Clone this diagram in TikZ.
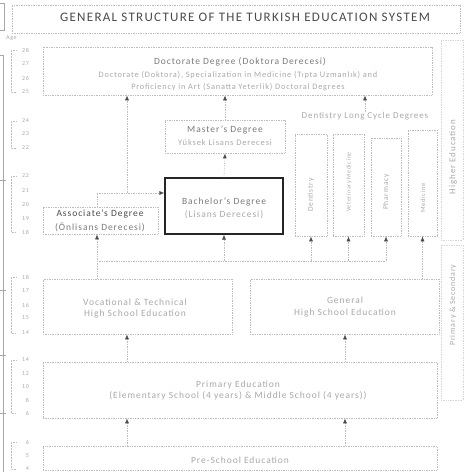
\documentclass[tikz,border=0pt]{standalone}
\usepackage{fontspec}
\setmainfont{Carlito}[LetterSpace=10]
\usetikzlibrary{arrows.meta}
\definecolor{dk}{HTML}{4A4A4A}
\definecolor{md}{HTML}{7A7A7A}
\definecolor{lt}{HTML}{A8A8A8}
\definecolor{ln}{HTML}{BDBDBD}
\tikzset{
  box/.style={draw=ln, densely dotted, line width=0.7pt, rectangle, inner sep=0pt},
  conn/.style={draw=ln, densely dotted, line width=0.7pt},
  arr/.style={conn, -{Latex[length=5pt,width=4pt,color=dk]}},
  txt/.style={inner sep=0pt, text=md, font=\fontsize{9.5}{11}\selectfont},
  txtl/.style={inner sep=0pt, text=lt, font=\fontsize{9.5}{11}\selectfont},
  vtxt/.style={inner sep=0pt, text=lt, font=\fontsize{7.5}{9}\selectfont, rotate=90},
  agetxt/.style={inner sep=0pt, text=lt, font=\fontsize{6}{7}\selectfont, anchor=east},
  brk/.style={draw=ln, densely dotted, line width=0.5pt}
}
\begin{document}
\begin{tikzpicture}[x=1pt,y=-1pt]
\useasboundingbox (0,0) rectangle (465,472);
% title
\node[box, minimum width=448pt, minimum height=28pt] (titlebox) at (236,19) {};
\node[inner sep=0pt, text=dk, font=\fontsize{13}{15}\selectfont] (title) at (245,17) {GENERAL STRUCTURE OF THE TURKISH EDUCATION SYSTEM};
\node[inner sep=0pt, text=lt, font=\fontsize{6}{7}\selectfont, anchor=west] (age) at (6,38) {Age};
% left edge
\draw[draw=lt, line width=0.5pt] (0,3) -- (4,3) -- (4,30) -- (0,30);
\draw[draw=lt, line width=0.5pt] (0,55) -- (3,55) -- (3,472);
\foreach \yy in {180,290,355,413} \draw[draw=lt, line width=0.5pt] (0,\yy) -- (6,\yy);
% age labels
\foreach \a/\yy in {28/50,27/64,26/78,25/92, 24/121,23/134,22/148, 22/176,21/191,20/205,19/219,18/232, 18/277,17/291,16/305,15/318,14/333, 14/360,12/374,10/387,8/400,6/413, 6/442,5/456,4/469}
  \node[agetxt] at (29,\yy) {\a};
\foreach \ya/\yb in {50/92,121/148,176/232,277/333,360/413,442/469}{
  \draw[brk] (16,\ya) -- (11,\ya) -- (11,\yb) -- (16,\yb);
}
% doctorate
\node[box, minimum width=389pt, minimum height=48pt] (doc) at (237.5,71) {};
\node[txt] (doct1) at (240,62) {Doctorate Degree (Doktora Derecesi)};
\node[txtl, font=\fontsize{8.3}{10}\selectfont] (doct2) at (238,75) {Doctorate (Doktora), Specialization in Medicine (Tıpta Uzmanlık) and};
\node[txtl, font=\fontsize{8.3}{10}\selectfont] (doct3) at (238,87) {Proficiency in Art (Sanatta Yeterlik) Doctoral Degrees};
% master
\node[box, minimum width=120pt, minimum height=33pt] (mas) at (225,136.5) {};
\node[txt] (mast1) at (225,130) {Master's Degree};
\node[txtl, font=\fontsize{8.5}{10}\selectfont] (mast2) at (225,143) {Yüksek Lisans Derecesi};
% bachelor
\node[draw=black!85, line width=1.2pt, rectangle, minimum width=118pt, minimum height=56pt, inner sep=0pt] (bach) at (224,206) {};
\node[txt] (bacht1) at (224,202) {Bachelor's Degree};
\node[txtl] (bacht2) at (224,215) {(Lisans Derecesi)};
% associate
\node[box, minimum width=115pt, minimum height=27pt] (assoc) at (100.5,220.5) {};
\node[txt, text=dk] (assoct1) at (100,214) {Associate's Degree};
\node[txt] (assoct2) at (100,227) {(Önlisans Derecesi)};
% long cycle
\node[txtl, font=\fontsize{9}{10}\selectfont] (lc) at (365,116) {Dentistry Long Cycle Degrees};
\node[box, minimum width=32pt, minimum height=102pt] (dent) at (311,185) {};
\node[box, minimum width=31pt, minimum height=102pt] (vet) at (348.5,185) {};
\node[box, minimum width=30pt, minimum height=98pt] (pharm) at (386,187) {};
\node[box, minimum width=29pt, minimum height=106pt] (med) at (422.5,183) {};
\node[vtxt] (dentt) at (311,195) {Dentistry};
\node[vtxt, font=\fontsize{6}{7}\selectfont] (vett) at (349,182) {Veterinary Medicine};
\node[vtxt] (pharmt) at (386,192) {Pharmacy};
\node[vtxt, font=\fontsize{6.5}{7}\selectfont] (medt) at (423,198) {Medicine};
% right side
\node[box, draw=ln!60, minimum width=22pt, minimum height=200pt] (hebox) at (452,140) {};
\node[vtxt, font=\fontsize{9}{10}\selectfont] (het) at (453,157) {Higher Education};
\node[box, draw=ln!60, minimum width=22pt, minimum height=155pt] (psbox) at (452,322.5) {};
\node[vtxt, font=\fontsize{8}{9}\selectfont] (pst) at (453,305) {Primary \& Secondary};
% high schools
\node[box, minimum width=189pt, minimum height=55pt] (voc) at (137.5,306.5) {};
\node[txtl] (voct1) at (135,302) {Vocational \& Technical};
\node[txtl] (voct2) at (135,314) {High School Education};
\node[box, minimum width=189pt, minimum height=55pt] (gen) at (344.5,306.5) {};
\node[txtl] (gent1) at (345,300) {General};
\node[txtl] (gent2) at (345,313) {High School Education};
% primary
\node[box, minimum width=394pt, minimum height=56pt] (prim) at (240,390) {};
\node[txtl] (primt1) at (238,385) {Primary Education};
\node[txtl] (primt2) at (238,396) {(Elementary School (4 years) \& Middle School (4 years))};
% preschool
\node[box, minimum width=394pt, minimum height=24pt] (pre) at (240,458) {};
\node[txtl] (pret) at (240,460) {Pre-School Education};
% connectors
\coordinate (h1) at (97,261);
\coordinate (h2) at (386,261);
\coordinate (ab) at (97,193);
\coordinate (dl) at (127,193);
\coordinate (cl) at (127,0);
\coordinate (cr) at (345,0);
\draw[conn] (h1) -- (h2);
\draw[arr] (voc.north -| h1) -- (assoc.south -| h1);
\draw[arr] (h1 -| bach.south) -- (bach.south);
\draw[arr] (h1 -| dent.south) -- (dent.south);
\draw[arr] (h1 -| vet.south) -- (vet.south);
\draw[arr] (h2) -- (pharm.south);
\draw[arr] (gen.north -| med.south) -- (med.south);
\draw[arr] (assoc.north -| ab) -- (ab) -- (ab -| bach.west);
\draw[arr] (dl) -- (dl |- doc.south);
\draw[arr] (bach.north) -- (mas.south);
\draw[arr] (mas.north) -- (mas.north |- doc.south);
\draw[arr] (lc.north) -- (lc.north |- doc.south);
\draw[arr] (prim.north -| cl) -- (voc.south -| cl);
\draw[arr] (prim.north -| cr) -- (gen.south -| cr);
\draw[arr] (pre.north -| cl) -- (prim.south -| cl);
\draw[arr] (pre.north -| cr) -- (prim.south -| cr);
\end{tikzpicture}
\end{document}
